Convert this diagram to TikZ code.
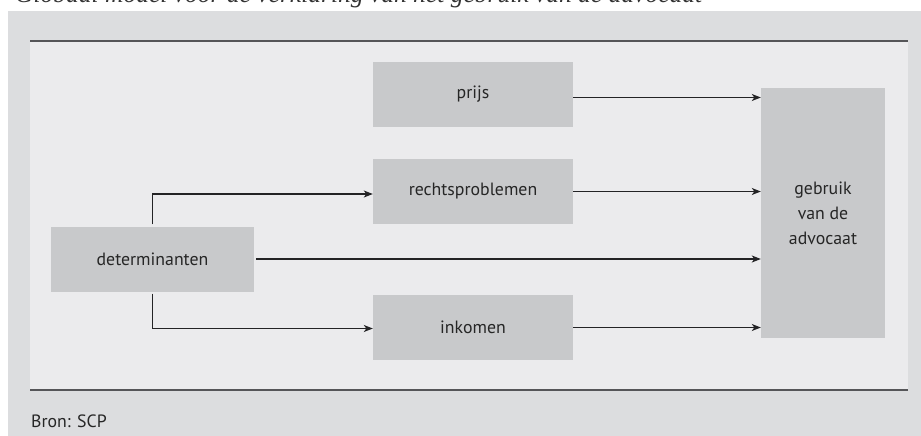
\documentclass[tikz,border=0pt]{standalone}
\usepackage{fontspec}
\setmainfont{PT Sans}
\newfontfamily\titlefont{Liberation Serif}
\usetikzlibrary{arrows.meta}

\definecolor{outergray}{HTML}{DCDDDF}
\definecolor{innergray}{HTML}{EBEBED}
\definecolor{boxgray}{HTML}{C8C9CB}
\definecolor{rulegray}{HTML}{555558}
\definecolor{arrowgray}{HTML}{232325}

\begin{document}
\begin{tikzpicture}[x=1pt,y=-1pt,
  factor/.style={rectangle, fill=boxgray, inner sep=0pt, minimum width=200pt, minimum height=65pt, font=\fontsize{17.8}{20}\selectfont, text=black!85},
  arr/.style={draw=arrowgray, line width=1.2pt, -{Stealth[length=9pt, width=7pt, inset=2.5pt]}}]
\clip (0,0) rectangle (921,436);
\useasboundingbox (0,0) rectangle (921,436);

% achtergrond
\fill[white] (0,0) rectangle (921,436);
\fill[outergray] (8,11) rectangle (921,436);
\fill[innergray] (30,41) rectangle (908,390);
\draw[rulegray, line width=1.6pt] (30,41) -- (908,41);
\draw[rulegray, line width=1.6pt] (30,390) -- (908,390);

% titel (afgesneden, zoals in het origineel)
\node[anchor=base west, inner sep=0pt, font=\titlefont\itshape\fontsize{25.5}{28}\selectfont, text=black!80] (titel) at (15,3) {Globaal model voor de verklaring van het gebruik van de advocaat};

% vakken
\node[factor] (prijs) at (473,94.5) {prijs};
\node[factor] (recht) at (473,191.5) {rechtsproblemen};
\node[factor] (inkomen) at (473,327.5) {inkomen};
\node[factor, minimum width=203pt] (det) at (152.5,259) {determinanten};
\node[factor, minimum width=124pt, minimum height=250pt, align=center, font=\fontsize{17.8}{25}\selectfont] (gebruik) at (823,213) {gebruik\\van de\\advocaat};

% pijlen
\draw[arr] ([yshift=-3pt]prijs.east) -- ([yshift=-3pt]prijs.east -| gebruik.west);
\draw[arr] (recht.east) -- (recht.east -| gebruik.west);
\draw[arr] ([xshift=2pt]det.east) -- (det.east -| gebruik.west);
\draw[arr] (inkomen.east) -- (inkomen.east -| gebruik.west);
\draw[arr] ([yshift=2pt]det.north) |- ([yshift=-2.5pt]recht.west);
\draw[arr] ([yshift=-2pt]det.south) |- ([yshift=-1pt]inkomen.west);

\node[anchor=base west, inner sep=0pt, font=\fontsize{17.8}{20}\selectfont, text=black!85] (bron) at (31,427) {Bron: SCP};
\end{tikzpicture}
\end{document}
